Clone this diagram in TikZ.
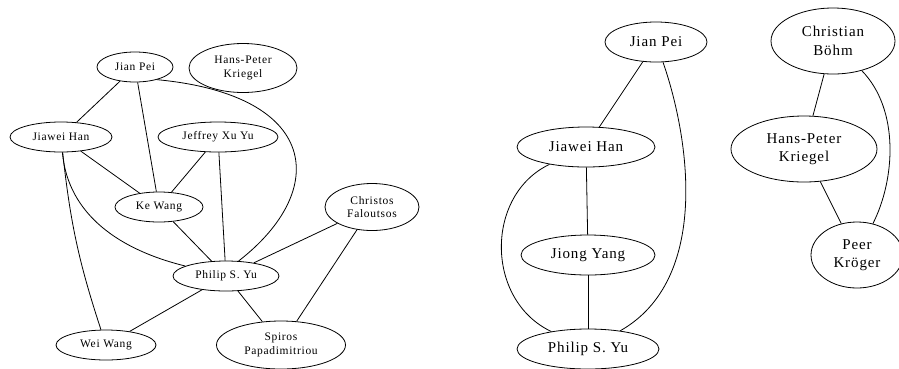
\documentclass[tikz,border=0pt]{standalone}
\usepackage{fontspec}
\setmainfont{Liberation Serif}
\newfontfamily\graphfont[LetterSpace=6]{Liberation Serif}
\usetikzlibrary{shapes.geometric}

\begin{document}
\begin{tikzpicture}[x=1pt, y=-1pt, line width=0.8pt,
    author/.style={draw, ellipse, inner sep=0pt, align=center},
    small/.style={author, font=\graphfont\fontsize{11.5}{13.5}\selectfont},
    large/.style={author, font=\graphfont\fontsize{15}{18.5}\selectfont}]
    \useasboundingbox (0,0) rectangle (899,368);

    \begin{scope}
        \node[small, minimum width=76pt, minimum height=30pt] (jp) at (135,67) {Jian Pei};
        \node[small, minimum width=108pt, minimum height=49pt] (hk) at (243,68) {Hans-Peter\\Kriegel};
        \node[small, minimum width=102pt, minimum height=30pt] (jh) at (61,137) {Jiawei Han};
        \node[small, minimum width=120pt, minimum height=30pt] (jx) at (218,137) {Jeffrey Xu Yu};
        \node[small, minimum width=88pt, minimum height=30pt] (kw) at (159,207) {Ke Wang};
        \node[small, minimum width=94pt, minimum height=47pt] (cf) at (372,207) {Christos\\Faloutsos};
        \node[small, minimum width=106pt, minimum height=30pt] (py) at (226,276) {Philip S. Yu};
        \node[small, minimum width=100pt, minimum height=30pt] (ww) at (106,345) {Wei Wang};
        \node[small, minimum width=129pt, minimum height=48pt] (sp) at (281,345) {Spiros\\Papadimitriou};

        \draw (jp) -- (jh);
        \draw (jp) -- (kw);
        \draw (jp.-30) .. controls (320,95) and (330,190) .. (py.50);
        \draw (jh) -- (kw);
        \draw (jh) .. controls (68,215) and (120,250) .. (py);
        \draw (jh) to[bend right=6] (ww);
        \draw (jx) -- (kw);
        \draw (jx) -- (py);
        \draw (kw) -- (py);
        \draw (cf) -- (py);
        \draw (cf) -- (sp);
        \draw (py) -- (ww);
        \draw (py) -- (sp);
    \end{scope}

    \begin{scope}
        \node[large, minimum width=102pt, minimum height=40pt] (jp2) at (656,42) {Jian Pei};
        \node[large, minimum width=124pt, minimum height=66pt] (cb) at (833,41) {Christian\\Böhm};
        \node[large, minimum width=138pt, minimum height=40pt] (jh2) at (586,147) {Jiawei Han};
        \node[large, minimum width=146pt, minimum height=66pt] (hk2) at (804,149) {Hans-Peter\\Kriegel};
        \node[large, minimum width=134pt, minimum height=40pt] (jy) at (588,255) {Jiong Yang};
        \node[large, minimum width=92pt, minimum height=66pt] (pk) at (857,255) {Peer\\Kröger};
        \node[large, minimum width=142pt, minimum height=40pt] (py2) at (588,349) {Philip S. Yu};

        \draw (jp2) -- (jh2);
        \draw (jp2) .. controls (690,140) and (710,280) .. (py2);
        \draw (jh2) -- (jy);
        \draw (jh2) .. controls (485,195) and (485,300) .. (py2);
        \draw (jy) -- (py2);
        \draw (cb) -- (hk2);
        \draw (cb) .. controls (900,110) and (895,180) .. (pk);
        \draw (hk2) -- (pk);
    \end{scope}
\end{tikzpicture}
\end{document}
